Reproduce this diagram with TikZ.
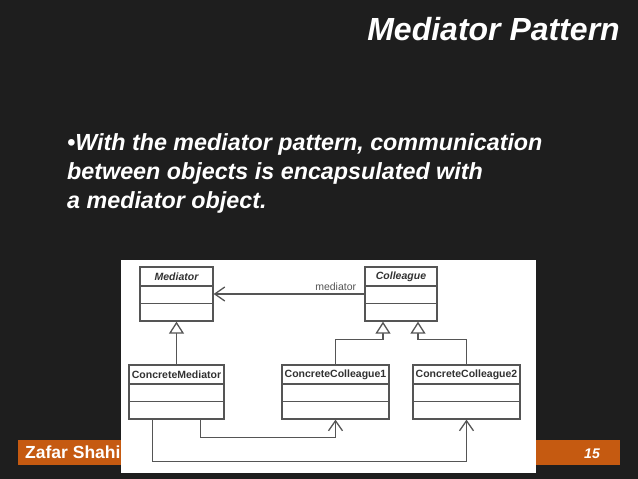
\documentclass[tikz,border=0pt]{standalone}
\usepackage{fontspec}
\setmainfont{Liberation Sans}
\usepackage{xcolor}
\usepackage{tikz}
\usetikzlibrary{arrows.meta,calc}

\definecolor{slidebg}{RGB}{30,30,30}
\definecolor{footorange}{RGB}{197,90,17}
\definecolor{umlgray}{RGB}{85,85,85}
\definecolor{umltext}{RGB}{50,50,50}

\begin{document}
\begin{tikzpicture}[
  x=1pt, y=-1pt,
  umlbox/.style={draw=umlgray, line width=1.3pt, fill=white, inner sep=0pt,
                 minimum height=54pt},
  cname/.style={font=\fontsize{10.5}{12}\selectfont\bfseries, text=umltext,
                inner sep=0pt},
  slidetext/.style={text=white, inner sep=0pt, anchor=base west,
                    font=\fontsize{23.3}{26}\selectfont\bfseries\itshape},
  gen/.style={draw=umlgray, line width=1.3pt,
              -{Triangle[length=12pt, width=15pt, fill=white]}},
  assoc/.style={draw=umlgray, line width=1.3pt,
                -{Straight Barb[length=10pt, width=14pt]}},
]
  % slide
  \fill[slidebg] (0,0) rectangle (638,479);
  \node[anchor=base east, text=white, inner sep=0pt,
        font=\fontsize{32}{36}\selectfont\bfseries\itshape] (title) at (620,41) {Mediator Pattern};
  \node[slidetext] (line1) at (67,150) {•With the mediator pattern, communication};
  \node[slidetext] (line2) at (67,179) {between objects is encapsulated with};
  \node[slidetext] (line3) at (67,208) {a mediator object.};

  % footer
  \fill[footorange] (18,440) rectangle (620,465);
  \node[anchor=base west, text=white, inner sep=0pt,
        font=\fontsize{17.5}{20}\selectfont\bfseries] (author) at (25,458) {Zafar Shahid};
  \node[anchor=base east, text=white, inner sep=0pt,
        font=\fontsize{14}{16}\selectfont\bfseries\itshape] (pagenum) at (600,458) {15};

  % diagram panel
  \fill[white] (121,260) rectangle (536,473);

  \node[umlbox, minimum width=73pt]  (med) at (176.5,294) {};
  \node[umlbox, minimum width=72pt]  (col) at (401,294)   {};
  \node[umlbox, minimum width=95pt]  (cm)  at (176.5,392) {};
  \node[umlbox, minimum width=107pt] (cc1) at (335.5,392) {};
  \node[umlbox, minimum width=107pt] (cc2) at (466.5,392) {};

  \foreach \c in {med,col,cm,cc1,cc2} {
    \draw[umlgray, line width=1.3pt] ($(\c.north west)+(0,19.5)$) -- ($(\c.north east)+(0,19.5)$);
    \draw[umlgray, line width=1.3pt] ($(\c.north west)+(0,37)$) -- ($(\c.north east)+(0,37)$);
  }

  \node[cname] (medname) at ($(med.north)+(0,10)$) {\itshape Mediator};
  \node[cname] (colname) at ($(col.north)+(0,10)$) {\itshape Colleague};
  \node[cname] (cmname)  at ($(cm.north)+(0,10)$)  {ConcreteMediator};
  \node[cname] (cc1name) at ($(cc1.north)+(0,10)$) {ConcreteColleague1};
  \node[cname] (cc2name) at ($(cc2.north)+(0,10)$) {ConcreteColleague2};

  % connectors
  \draw[assoc] (col.west) -- node[pos=0.19, above=3pt, inner sep=0pt, text=umlgray,
        font=\fontsize{10.5}{12}\selectfont] (role) {mediator} (med.east);
  \draw[gen] (cm.north) -- (med.south);
  \draw[gen] (cc1.north) |- ($(col.south)+(-18,18)$) -- ($(col.south)+(-18,0)$);
  \draw[gen] (cc2.north) |- ($(col.south)+(17,18)$) -- ($(col.south)+(17,0)$);
  \draw[assoc] ($(cm.south west)+(72,0)$) |- ($(cc1.south)+(0,18)$) -- (cc1.south);
  \draw[assoc] ($(cm.south west)+(24,0)$) |- ($(cc2.south)+(0,42)$) -- (cc2.south);
\end{tikzpicture}
\end{document}
